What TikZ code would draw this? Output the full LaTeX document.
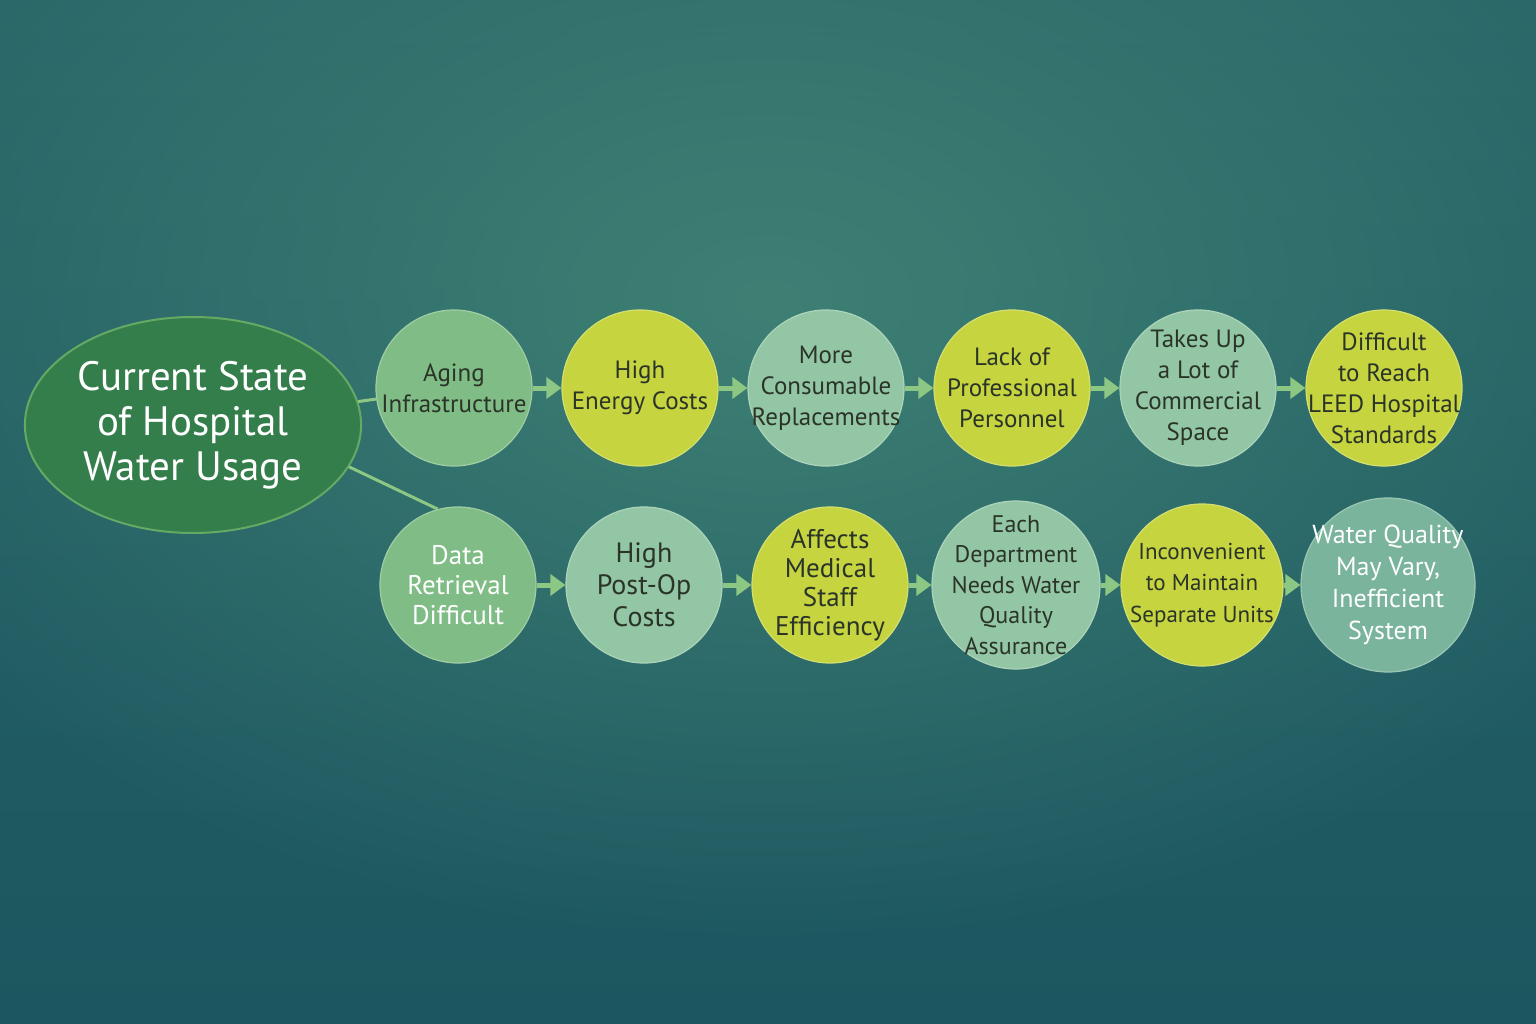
\documentclass[tikz,border=0pt]{standalone}
\usepackage{fontspec}
\setmainfont{PT Sans}
\usetikzlibrary{arrows.meta,shapes.geometric,positioning,fadings}

\definecolor{bgtop}{RGB}{40,102,104}
\definecolor{bgbot}{RGB}{28,86,96}
\definecolor{bglight}{RGB}{62,128,116}
\definecolor{hubfill}{RGB}{52,126,76}
\definecolor{hubline}{RGB}{100,170,100}
\definecolor{leaf}{RGB}{128,188,134}
\definecolor{mint}{RGB}{146,198,164}
\definecolor{lime}{RGB}{198,212,64}
\definecolor{sea}{RGB}{122,180,156}
\definecolor{ink}{RGB}{42,52,40}
\definecolor{link}{RGB}{140,200,132}

\tikzfading[name=glow,inner color=transparent!0,outer color=transparent!100]

\tikzset{
  hub/.style={ellipse,draw=hubline,line width=2pt,fill=hubfill,minimum width=330pt,
    minimum height=216pt,text=white,align=center,font=\fontsize{41}{45}\selectfont},
  bubble/.style={circle,minimum size=156pt,inner sep=-20pt,align=center,text=ink,
    line width=1.2pt,font=\fontsize{25}{31}\selectfont},
  leafc/.style={bubble,fill=leaf,draw=leaf!75!white},
  mintc/.style={bubble,fill=mint,draw=mint!75!white},
  limec/.style={bubble,fill=lime,draw=lime!75!white},
  seac/.style={bubble,fill=sea,draw=sea!75!white,text=white},
  flow/.style={draw=link,line width=5pt,-{Triangle[length=15pt,width=21pt]}},
  branch/.style={draw=link,line width=3pt}
}

\begin{document}
\begin{tikzpicture}[x=1pt,y=-1pt,node distance=186pt]

  \useasboundingbox (0,0) rectangle (1536,1024);
  \shade[top color=bgtop,bottom color=bgbot] (0,0) rectangle (1536,1024);
  \fill[bglight,path fading=glow] (768,300) ellipse [x radius=1000,y radius=650];

  \node[hub]  (cs) at (193,425) {Current State\\of Hospital\\Water Usage};

  % top row
  \node[leafc] (A1) at (454,388)     {Aging\\Infrastructure};
  \node[limec] (A2) [right of=A1]    {High\\Energy Costs};
  \node[mintc] (A3) [right of=A2]    {More\\Consumable\\Replacements};
  \node[limec] (A4) [right of=A3]    {Lack of\\Professional\\Personnel};
  \node[mintc] (A5) [right of=A4]    {Takes Up\\a Lot of\\Commercial\\Space};
  \node[limec] (A6) [right of=A5]    {Difficult\\to Reach\\LEED Hospital\\Standards};

  % bottom row
  \node[leafc,text=white,font=\fontsize{27}{30}\selectfont] (B1) at (458,585) {Data\\Retrieval\\Difficult};
  \node[mintc,font=\fontsize{28}{32}\selectfont] (B2) [right of=B1] {High\\Post-Op\\Costs};
  \node[limec,font=\fontsize{27}{29}\selectfont] (B3) [right of=B2] {Affects\\Medical\\Staff\\Efficiency};
  \node[mintc,minimum size=168pt,font=\fontsize{24}{30.5}\selectfont] (B4) [right of=B3] {Each\\Department\\Needs Water\\Quality\\Assurance};
  \node[limec,minimum size=162pt,font=\fontsize{23}{31.5}\selectfont] (B5) [right of=B4] {Inconvenient\\to Maintain\\Separate Units};
  \node[seac,minimum size=174pt,font=\fontsize{26}{32}\selectfont] (B6) [right of=B5] {Water Quality\\May Vary,\\Inefficient\\System};

  \path[branch] (cs) -- (A1)
                (cs.-15) -- (B1.105);

  \draw[flow] (A1) -- (A2);
  \draw[flow] (A2) -- (A3);
  \draw[flow] (A3) -- (A4);
  \draw[flow] (A4) -- (A5);
  \draw[flow] (A5) -- (A6);
  \draw[flow] (B1) -- (B2);
  \draw[flow] (B2) -- (B3);
  \draw[flow] (B3) -- (B4);
  \draw[flow] (B4) -- (B5);
  \draw[flow] (B5) -- (B6);
\end{tikzpicture}
\end{document}
